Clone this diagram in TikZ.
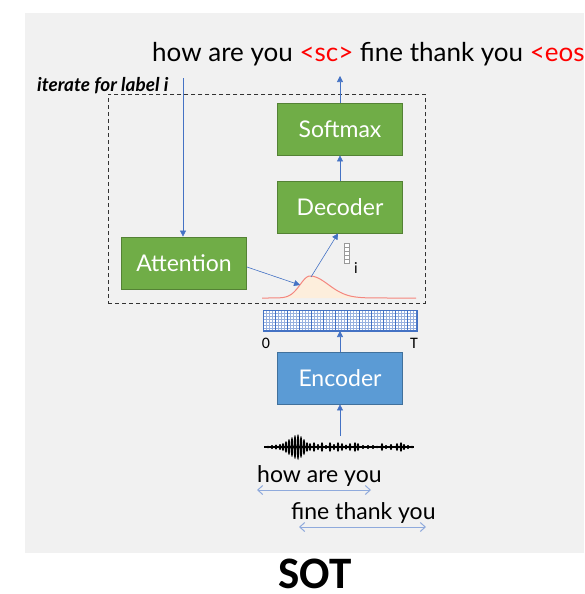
\documentclass[tikz,border=0pt]{standalone}
\usepackage{fontspec}
\setmainfont{Lato}
\newfontfamily\calib{Carlito}
\usetikzlibrary{arrows.meta}
\definecolor{bggray}{HTML}{F1F1F1}
\definecolor{gfill}{HTML}{70AD47}
\definecolor{gline}{HTML}{548235}
\definecolor{bfill}{HTML}{5B9BD5}
\definecolor{bline}{HTML}{41719C}
\definecolor{arr}{HTML}{4472C4}
\definecolor{larr}{HTML}{8FAADC}
\definecolor{redtxt}{HTML}{FF0000}
\definecolor{peach}{HTML}{FDEEDC}
\definecolor{curve}{HTML}{F4877F}
\begin{document}
\begin{tikzpicture}[x=1pt,y=-1pt,
  greenbox/.style={draw=gline, fill=gfill, line width=0.8pt, minimum width=125pt, minimum height=52pt, inner sep=0pt, text=white, font=\fontsize{23}{27}\selectfont},
  bluebox/.style={draw=bline, fill=bfill, line width=0.8pt, minimum width=125pt, minimum height=52pt, inner sep=0pt, text=white, font=\fontsize{23}{27}\selectfont},
  conn/.style={draw=arr, line width=0.6pt, -{Triangle[width=6pt,length=6pt]}},
  span/.style={draw=larr, line width=1pt, {Straight Barb[length=5pt,width=9pt]}-{Straight Barb[length=5pt,width=9pt]}},
  lbl/.style={inner sep=0pt, anchor=base west}]
\useasboundingbox (0,0) rectangle (584,594);
\fill[bggray] (25,13) rectangle (584,553);
% top output text
\node[lbl, font=\fontsize{26}{30}\selectfont] (out) at (152,62) {how are you \textcolor{redtxt}{<sc>} fine thank you \textcolor{redtxt}{<eos>}};
% dashed iterate box
\node[draw=black!80, line width=0.8pt, dash pattern=on 4pt off 3pt, minimum width=317pt, minimum height=209pt, inner sep=0pt, anchor=north west] (iter) at (108,94) {};
\node[lbl, font=\fontsize{19}{22}\selectfont\bfseries\itshape] (itlab) at (37,91) {iterate for label i};
% boxes
\node[greenbox] (soft) at (340,129) {Softmax};
\node[greenbox] (dec) at (340,207) {Decoder};
\node[greenbox] (att) at (184,263) {Attention};
\node[bluebox] (enc) at (340,378) {Encoder};
% gaussian attention curve
\fill[peach] (262,298) -- plot[domain=262:310, samples=40] (\x, {298-22*exp(-((\x-310)/14)^2)}) -- plot[domain=310:416, samples=60] (\x, {298-22*exp(-((\x-310)/26)^2)}) -- (416,298) -- cycle;
\draw[curve, line width=1pt] plot[domain=262:310, samples=40] (\x, {298-22*exp(-((\x-310)/14)^2)}) -- plot[domain=310:416, samples=60] (\x, {298-22*exp(-((\x-310)/26)^2)});
\coordinate (peakL) at (300,285);
\coordinate (peakT) at (311,277);
% small context vector
\foreach \k in {0,...,4}{
  \draw[black!40, line width=0.7pt, fill=white] (344,{243+4*\k}) rectangle (349,{247+4*\k});
}
\node[inner sep=0pt, font=\fontsize{15}{17}\selectfont] (ilab) at (356,268) {i};
% encoder output bar with grid
\node[draw=arr, line width=1pt, minimum width=153pt, minimum height=20pt, inner sep=0pt, anchor=north west, fill=white] (bar) at (263,310) {};
\begin{scope}
\clip (263,310) rectangle (416,330);
\foreach \x in {263,266,...,416}{ \draw[arr!55, line width=0.4pt] (\x,310) -- (\x,330); }
\foreach \y in {313,316,...,330}{ \draw[arr!55, line width=0.4pt] (263,\y) -- (416,\y); }
\foreach \x in {275,287,...,416}{ \draw[arr, line width=0.6pt] (\x,310) -- (\x,330); }
\end{scope}
\draw[arr, line width=1pt] (bar.north west) rectangle (bar.south east);
\node[inner sep=0pt, font=\calib\fontsize{16}{18}\selectfont] (zero) at (266,343) {0};
\node[inner sep=0pt, font=\calib\fontsize{16}{18}\selectfont] (tee) at (414,343) {T};
% waveform
\draw[black, line width=1.4pt] (264,447) -- (414,447);
\foreach \x/\a in {268/1.5,272/2,276/2.5,280/3,283/4,286/6,289/8,292/10,295/12,298/13,301/11,304/8,307/5,310/4,314/5,318/3,322/5,326/2,330/5,334/3,338/5,342/4,346/2.5,350/4,355/5,358/4,363/2,368/2,373/2,377/1.5,382/4,386/2,391/3,397/4,401/5,404/3,408/2,412/1.5}{
  \fill[black] (\x,447) ellipse (1.3pt and \a pt);
}
\coordinate (wave) at (340,436);
% input labels and spans
\node[lbl, font=\fontsize{23}{27}\selectfont] (how) at (257,482) {how are you};
\node[lbl, font=\fontsize{23}{27}\selectfont] (fine) at (291,519) {fine thank you};
\coordinate (s1a) at (257,490); \coordinate (s1b) at (371,490);
\coordinate (s2a) at (299,527); \coordinate (s2b) at (426,527);
\draw[span] (s1a) -- (s1b);
\draw[span] (s2a) -- (s2b);
% SOT
\node[inner sep=0pt, anchor=base, font=\calib\bfseries\fontsize{45}{52}\selectfont] (sot) at (315,588) {SOT};
% connectors
\coordinate (lineTop) at (183,78);
\coordinate (outArr) at (340,76);
\draw[conn] (wave) -- (enc.south);
\draw[conn] (enc.north) -- (bar.south -| enc.north);
\draw[conn] (dec.north) -- (soft.south);
\draw[conn] (soft.north) -- (outArr);
\draw[conn] (lineTop) -- (att.north -| lineTop);
\draw[conn] (att.east |- 0,267) -- (peakL);
\draw[conn] (peakT) -- (dec.south -| 338,0);
\end{tikzpicture}
\end{document}
